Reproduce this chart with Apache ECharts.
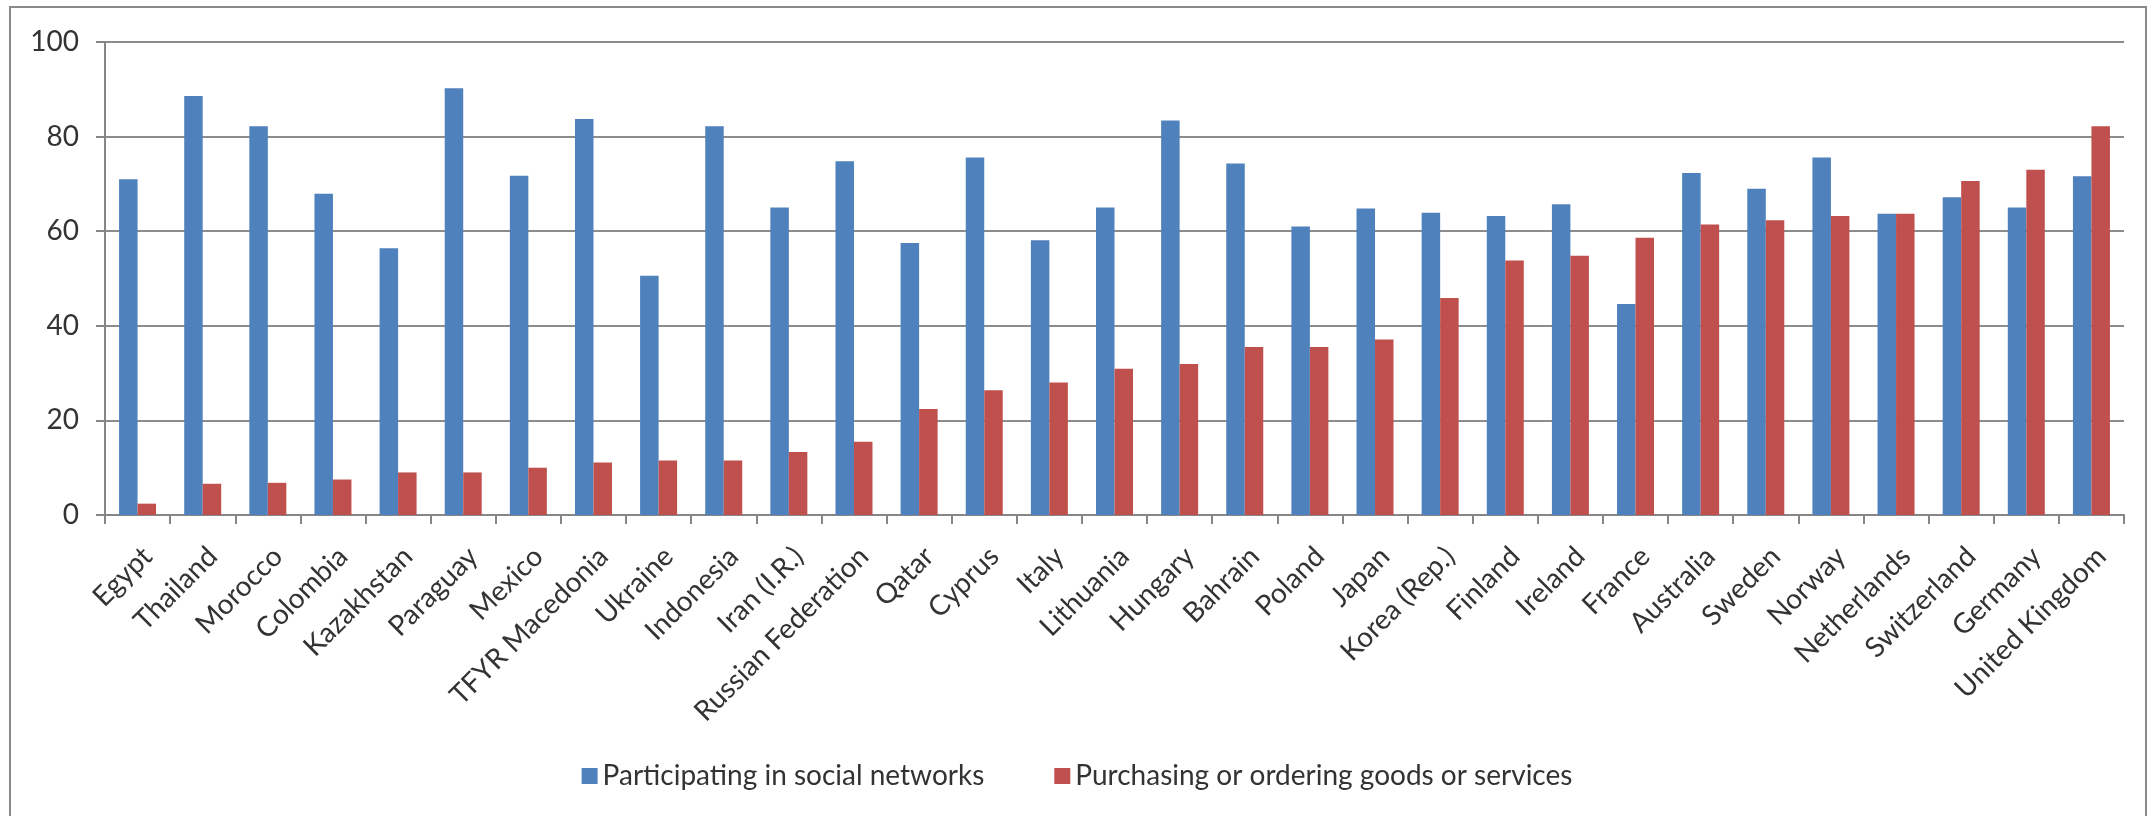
<!DOCTYPE html>
<html>
<head>
<meta charset="utf-8">
<script src="https://cdn.jsdelivr.net/npm/echarts@6/dist/echarts.min.js"></script>
<style>
html,body{margin:0;padding:0;background:#fff;}
#chart{width:2154px;height:816px;}
</style>
</head>
<body>
<div id="chart"></div>
<script>
const categories = ["Egypt","Thailand","Morocco","Colombia","Kazakhstan","Paraguay","Mexico","TFYR Macedonia","Ukraine","Indonesia","Iran (I.R.)","Russian Federation","Qatar","Cyprus","Italy","Lithuania","Hungary","Bahrain","Poland","Japan","Korea (Rep.)","Finland","Ireland","France","Australia","Sweden","Norway","Netherlands","Switzerland","Germany","United Kingdom"];
const socialNetworks = [71.0,88.6,82.2,67.9,56.4,90.2,71.7,83.7,50.6,82.2,65.0,74.8,57.5,75.6,58.1,65.0,83.4,74.3,61.0,64.8,63.9,63.2,65.7,44.6,72.3,69.0,75.6,63.7,67.2,65.0,71.6];
const purchasing = [2.4,6.6,6.8,7.5,9.0,9.0,10.0,11.1,11.5,11.5,13.3,15.5,22.4,26.4,28.0,30.9,31.9,35.5,35.5,37.1,45.9,53.8,54.8,58.6,61.4,62.3,63.2,63.7,70.6,73.0,82.2];
const seriesNames = ["Participating in social networks","Purchasing or ordering goods or services"];
const yTicks = [0,20,40,60,80,100];

const FONT = "Lato";
const chart = echarts.init(document.getElementById('chart'), null, {renderer:'canvas'});
chart.setOption({
  animation:false,
  backgroundColor:'#ffffff',
  textStyle:{fontFamily:FONT},
  graphic:[{
    type:'rect', silent:true,
    shape:{x:10,y:7,width:2136,height:840},
    style:{fill:'none',stroke:'#8a8a8a',lineWidth:2}
  }],
  grid:{left:105,right:30,top:42,bottom:301,containLabel:false},
  legend:{
    bottom:21, left:'center',
    icon:'rect', itemWidth:16, itemHeight:16, itemGap:70,
    textStyle:{fontFamily:FONT,fontSize:28,color:'#333'},
    data:seriesNames
  },
  xAxis:{
    type:'category', data:categories,
    boundaryGap:true,
    axisLine:{lineStyle:{color:'#868686',width:2}},
    axisTick:{show:true,length:9,alignWithLabel:false,lineStyle:{color:'#868686',width:2}},
    axisLabel:{rotate:45,interval:0,margin:27,verticalAlign:'top',align:'right',fontFamily:FONT,fontSize:28,color:'#333'}
  },
  yAxis:{
    type:'value', min:yTicks[0], max:yTicks[yTicks.length-1], interval:20,
    axisLine:{show:true,lineStyle:{color:'#868686',width:2}},
    axisTick:{show:true,length:9,lineStyle:{color:'#868686',width:2}},
    splitLine:{show:true,lineStyle:{color:'#8c8c8c',width:2}},
    axisLabel:{margin:26,fontFamily:FONT,fontSize:28,color:'#333'}
  },
  series:[
    {name:seriesNames[0],type:'bar',data:socialNetworks,barWidth:'28.4%',barGap:'0%',itemStyle:{color:'#4F81BD'}},
    {name:seriesNames[1],type:'bar',data:purchasing,barWidth:'28.4%',barGap:'0%',itemStyle:{color:'#C0504D'}}
  ]
});
</script>
</body>
</html>
